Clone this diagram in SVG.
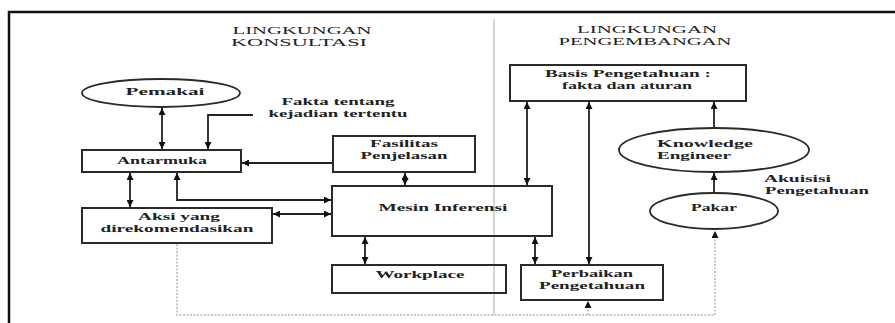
<svg xmlns="http://www.w3.org/2000/svg" width="895" height="323" viewBox="0 0 895 323">
<defs>
<style>
.box{fill:none;stroke:#2a2a2a;stroke-width:2}
.ell{fill:none;stroke:#2a2a2a;stroke-width:1.8}
.lbl{font-family:"Liberation Serif","Times New Roman",serif;font-size:11px;font-weight:bold;fill:#222;text-anchor:middle}
.hdr{font-family:"Liberation Serif","Times New Roman",serif;font-size:11px;fill:#222;text-anchor:middle}
.st{text-anchor:start}
.con{fill:none;stroke:#222;stroke-width:1.8}
.dot{fill:none;stroke:#b8b8b8;stroke-width:1.5;stroke-dasharray:2 1.5}
</style>
<marker id="ah" markerUnits="userSpaceOnUse" markerWidth="8" markerHeight="7" refX="7" refY="3.5" orient="auto-start-reverse">
<path d="M0,0 L7,3.5 L0,7 z" fill="#111"/>
</marker>
</defs>
<rect x="0" y="0" width="895" height="323" fill="#fff"/>
<path d="M9,323 V12 H895" fill="none" stroke="#111" stroke-width="2.5"/>
<line x1="494" y1="19" x2="494" y2="315" stroke="#c8c8c8" stroke-width="1.5"/>

<g id="headers">
<text class="hdr" x="302" y="34" textLength="139" lengthAdjust="spacingAndGlyphs">LINGKUNGAN</text>
<text class="hdr" x="299" y="46" textLength="136" lengthAdjust="spacingAndGlyphs">KONSULTASI</text>
<text class="hdr" x="647" y="33" textLength="140" lengthAdjust="spacingAndGlyphs">LINGKUNGAN</text>
<text class="hdr" x="645" y="45" textLength="173" lengthAdjust="spacingAndGlyphs">PENGEMBANGAN</text>
</g>

<g id="connectors">
<line class="con" x1="162" y1="108" x2="162" y2="149" marker-start="url(#ah)" marker-end="url(#ah)"/>
<polyline class="con" points="253,115 208,115 208,149" marker-end="url(#ah)"/>
<line class="con" x1="333" y1="163" x2="242" y2="163" marker-end="url(#ah)"/>
<line class="con" x1="130" y1="173" x2="130" y2="207" marker-start="url(#ah)" marker-end="url(#ah)"/>
<polyline class="con" points="177,173 177,200 331,200" marker-start="url(#ah)" marker-end="url(#ah)"/>
<line class="con" x1="273" y1="214" x2="331" y2="214" marker-start="url(#ah)" marker-end="url(#ah)"/>
<line class="con" x1="405" y1="173" x2="405" y2="185" marker-start="url(#ah)" marker-end="url(#ah)"/>
<line class="con" x1="365" y1="237" x2="365" y2="264" marker-start="url(#ah)" marker-end="url(#ah)"/>
<line class="con" x1="535" y1="237" x2="535" y2="264" marker-start="url(#ah)" marker-end="url(#ah)"/>
<line class="con" x1="527" y1="102" x2="527" y2="185" marker-start="url(#ah)" marker-end="url(#ah)"/>
<line class="con" x1="589" y1="102" x2="589" y2="264" marker-start="url(#ah)" marker-end="url(#ah)"/>
<line class="con" x1="714" y1="128" x2="714" y2="102" marker-end="url(#ah)"/>
<line class="con" x1="714" y1="193" x2="714" y2="173" marker-end="url(#ah)"/>
<polyline class="dot" points="177,244 177,315 715,315 715,231" marker-end="url(#ah)"/>
<line class="dot" x1="588" y1="315" x2="588" y2="301" marker-end="url(#ah)"/>
</g>

<g id="pemakai">
<ellipse class="ell" cx="161" cy="93" rx="79" ry="14"/>
<text class="lbl" x="165" y="95" textLength="79" lengthAdjust="spacingAndGlyphs">Pemakai</text>
</g>
<g id="fakta">
<text class="lbl" x="338" y="105" textLength="113" lengthAdjust="spacingAndGlyphs">Fakta tentang</text>
<text class="lbl" x="338" y="117" textLength="139" lengthAdjust="spacingAndGlyphs">kejadian tertentu</text>
</g>
<g id="antarmuka">
<rect class="box" x="82" y="150" width="159" height="22"/>
<text class="lbl" x="162" y="164" textLength="90" lengthAdjust="spacingAndGlyphs">Antarmuka</text>
</g>
<g id="fasilitas">
<rect class="box" x="333" y="136" width="142" height="36"/>
<text class="lbl" x="404" y="147" textLength="68" lengthAdjust="spacingAndGlyphs">Fasilitas</text>
<text class="lbl" x="404" y="159" textLength="87" lengthAdjust="spacingAndGlyphs">Penjelasan</text>
</g>
<g id="aksi">
<rect class="box" x="82" y="208" width="190" height="35"/>
<text class="lbl" x="179" y="220" textLength="82" lengthAdjust="spacingAndGlyphs">Aksi yang</text>
<text class="lbl" x="177" y="232" textLength="153" lengthAdjust="spacingAndGlyphs">direkomendasikan</text>
</g>
<g id="mesin">
<rect class="box" x="332" y="186" width="220" height="50"/>
<text class="lbl" x="443" y="211" textLength="129" lengthAdjust="spacingAndGlyphs">Mesin Inferensi</text>
</g>
<g id="workplace">
<rect class="box" x="332" y="265" width="174" height="28"/>
<text class="lbl" x="420" y="278" textLength="89" lengthAdjust="spacingAndGlyphs">Workplace</text>
</g>
<g id="basis">
<rect class="box" x="510" y="65" width="236" height="36"/>
<text class="lbl" x="628" y="77" textLength="166" lengthAdjust="spacingAndGlyphs">Basis Pengetahuan :</text>
<text class="lbl" x="627" y="89" textLength="130" lengthAdjust="spacingAndGlyphs">fakta dan aturan</text>
</g>
<g id="perbaikan">
<rect class="box" x="521" y="265" width="142" height="35"/>
<text class="lbl" x="592" y="277" textLength="82" lengthAdjust="spacingAndGlyphs">Perbaikan</text>
<text class="lbl" x="592" y="289" textLength="106" lengthAdjust="spacingAndGlyphs">Pengetahuan</text>
</g>
<g id="knowledge-engineer">
<ellipse class="ell" cx="714" cy="150" rx="95" ry="22"/>
<text class="lbl st" x="657" y="147" textLength="96" lengthAdjust="spacingAndGlyphs">Knowledge</text>
<text class="lbl st" x="657" y="159" textLength="74" lengthAdjust="spacingAndGlyphs">Engineer</text>
</g>
<g id="pakar">
<ellipse class="ell" cx="714" cy="211" rx="64" ry="18"/>
<text class="lbl" x="714" y="211" textLength="46" lengthAdjust="spacingAndGlyphs">Pakar</text>
</g>
<g id="akuisisi">
<text class="lbl st" x="764" y="182" textLength="67" lengthAdjust="spacingAndGlyphs">Akuisisi</text>
<text class="lbl st" x="765" y="194" textLength="104" lengthAdjust="spacingAndGlyphs">Pengetahuan</text>
</g>
</svg>
